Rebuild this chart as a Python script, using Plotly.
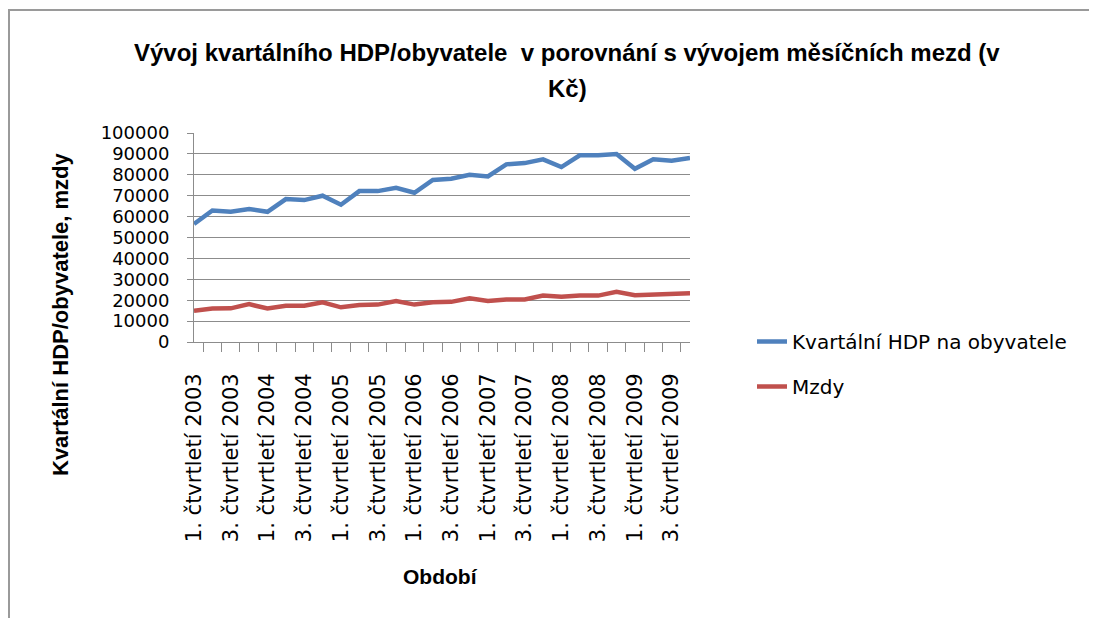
import plotly.graph_objects as go

years = [2003, 2004, 2005, 2006, 2007, 2008, 2009]
quarters = [1, 2, 3, 4]
categories = [f"{q}. čtvrtletí {y}" for y in years for q in quarters]

hdp = [56500, 62900, 62300, 63600, 62300, 68400, 67900, 70000, 65700, 72200,
       72200, 73800, 71400, 77500, 78100, 80000, 79200, 85000, 85600, 87400,
       83700, 89300, 89300, 89900, 82900, 87400, 86700, 88000]
mzdy = [14900, 16000, 16100, 18100, 16000, 17300, 17400, 19000, 16600, 17700,
        17900, 19600, 17900, 19000, 19200, 20900, 19600, 20300, 20300, 22200,
        21600, 22200, 22200, 24000, 22400, 22800, 23300, 23300]

tick_text = [c if i % 2 == 0 else "" for i, c in enumerate(categories)]

OFF = 8  # page body margin
W, H = 1097 - OFF, 618 - OFF
L, R, T, B = 194, 690, 133, 342  # plot area in screenshot pixels
pw, ph = R - L, B - T


def px(x):
    return (x - L) / pw


def py(y):
    return (B - y) / ph


fig = go.Figure()
fig.add_trace(go.Scatter(x=categories, y=hdp, mode="lines", name="Kvartální HDP na obyvatele",
                         line=dict(color="#4F81BD", width=4.5), legendgroup="a"))
fig.add_trace(go.Scatter(x=categories, y=mzdy, mode="lines", name="Mzdy",
                         line=dict(color="#C0504D", width=4.5), legendgroup="b"))

grid = "#8c8c8c"

fig.update_layout(
    width=W, height=H,
    margin=dict(l=L - OFF, r=W - (R - OFF), t=T - OFF, b=H - (B - OFF), pad=0),
    paper_bgcolor="white", plot_bgcolor="white",
    showlegend=True,
    legend=dict(x=px(752), y=py(322), xanchor="left", yanchor="top",
                font=dict(family="DejaVu Sans", size=20, color="#000000"),
                tracegroupgap=16, bgcolor="rgba(0,0,0,0)"),
    xaxis=dict(type="category", tickmode="array", tickvals=categories, ticktext=tick_text,
               tickangle=-90, tickson="boundaries", ticks="outside", ticklen=9, tickcolor=grid,
               showline=True, linecolor=grid, linewidth=1, showgrid=False,
               tickfont=dict(family="DejaVu Sans", size=21, color="#000000"),
               ticklabelstandoff=22, fixedrange=True),
    yaxis=dict(range=[0, 100000], dtick=10000, tickformat="d", ticks="outside", ticklen=6,
               tickcolor=grid, showline=True, linecolor=grid, linewidth=1,
               showgrid=True, gridcolor=grid, gridwidth=1, zeroline=False,
               tickfont=dict(family="DejaVu Sans", size=18, color="#000000"),
               ticklabelstandoff=14, fixedrange=True),
    annotations=[
        dict(text="Vývoj kvartálního HDP/obyvatele  v porovnání s vývojem měsíčních mezd (v",
             xref="paper", yref="paper", x=px(567), y=py(52), showarrow=False,
             xanchor="center", yanchor="middle",
             font=dict(family="Liberation Sans", size=24, color="#000000", weight="bold")),
        dict(text="Kč)", xref="paper", yref="paper", x=px(567), y=py(88), showarrow=False,
             xanchor="center", yanchor="middle",
             font=dict(family="Liberation Sans", size=24, color="#000000", weight="bold")),
        dict(text="Kvartální HDP/obyvatele, mzdy", xref="paper", yref="paper",
             x=px(60), y=py(314), showarrow=False, textangle=-90,
             xanchor="center", yanchor="middle",
             font=dict(family="Liberation Sans", size=22, color="#000000", weight="bold")),
        dict(text="Období", xref="paper", yref="paper", x=px(440), y=py(576), showarrow=False,
             xanchor="center", yanchor="middle",
             font=dict(family="Liberation Sans", size=21, color="#000000", weight="bold")),
    ],
    shapes=[
        dict(type="line", xref="paper", yref="paper", x0=px(9), x1=px(9), y0=py(10), y1=py(630),
             line=dict(color="#9a9a9a", width=2)),
        dict(type="line", xref="paper", yref="paper", x0=px(8), x1=px(1110), y0=py(10), y1=py(10),
             line=dict(color="#9a9a9a", width=2)),
    ],
)

fig.write_html("out.html")
